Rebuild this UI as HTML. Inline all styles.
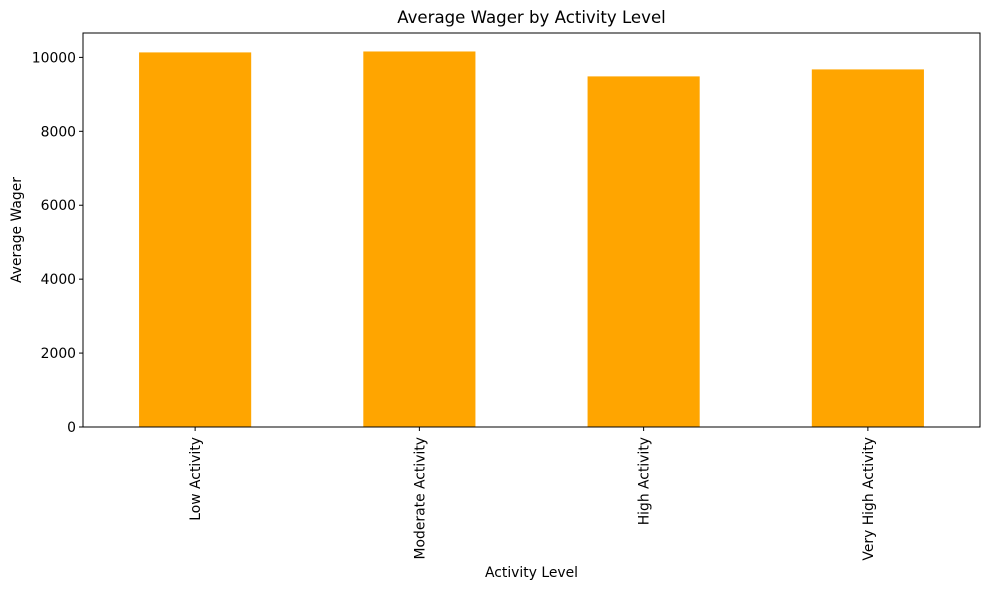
<!DOCTYPE html>
<html><head><meta charset="utf-8"><style>
body{margin:0;background:#fff;}
svg text{font-family:"DejaVu Sans","Liberation Sans",sans-serif;fill:#000;}
</style></head><body>
<svg id="chart" width="989" height="590" xmlns="http://www.w3.org/2000/svg"></svg>
<script>
const categories=["Low Activity","Moderate Activity","High Activity","Very High Activity"];
const values=[10135,10160,9486,9675];
const yTicks=[0,2000,4000,6000,8000,10000];
const yMax=10660;
const svg=document.getElementById('chart');
const NS='http://www.w3.org/2000/svg';
const L=83,R=980,T=33,B=427;
const band=(R-L)/categories.length;
function x(i){return L+band*(i+0.5);}
function y(v){return B-(v/yMax)*(B-T);}
function mk(tag,attrs,name,text){const e=document.createElementNS(NS,tag);for(const k in attrs)e.setAttribute(k,attrs[k]);


if(text!==undefined)e.textContent=text;svg.appendChild(e);return e;}
values.forEach((v,i)=>{mk('rect',{x:x(i)-band/4,y:y(v),width:band/2,height:B-y(v),fill:'#ffa500'},'bar-'+categories[i].toLowerCase().replace(/ /g,'-'));});
mk('rect',{x:L,y:T,width:R-L,height:B-T,fill:'none',stroke:'#000','stroke-width':1},'plot-frame');
yTicks.forEach(t=>{const yy=y(t);
mk('line',{x1:L-4,x2:L,y1:yy,y2:yy,stroke:'#000'},'y-tick');
mk('text',{x:L-7,y:yy+5,'text-anchor':'end','font-size':13.9},'y-tick-label',String(t));});
categories.forEach((c,i)=>{const xx=x(i);
mk('line',{x1:xx,x2:xx,y1:B,y2:B+4,stroke:'#000'},'x-tick');
mk('text',{x:xx+5,y:B+10,'text-anchor':'end','font-size':13.9,transform:`rotate(-90 ${xx+5} ${B+10})`},'x-tick-label',c);});
mk('text',{x:(L+R)/2,y:23,'text-anchor':'middle','font-size':16.6},'chart-title','Average Wager by Activity Level');
mk('text',{x:(L+R)/2,y:577,'text-anchor':'middle','font-size':13.9},'x-axis-title','Activity Level');
mk('text',{x:21,y:(T+B)/2,'text-anchor':'middle','font-size':13.9,transform:`rotate(-90 21 ${(T+B)/2})`},'y-axis-title','Average Wager');
</script>
</body></html>
